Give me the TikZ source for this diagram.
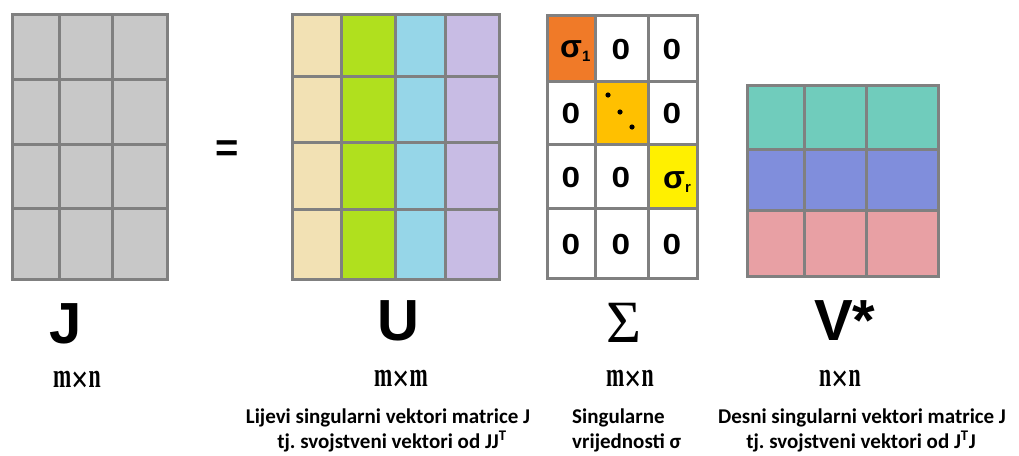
\documentclass[tikz,border=0pt]{standalone}
\usepackage{fontspec}
\usepackage{tikz}
\newfontfamily\capfont{Carlito}
\newfontfamily\sansfont{Liberation Sans}
\newfontfamily\seriffont{Liberation Serif}
\frenchspacing

\definecolor{linegray}{RGB}{128,128,128}
\definecolor{jgray}{RGB}{200,200,200}
\definecolor{ubeige}{RGB}{242,225,180}
\definecolor{ugreen}{RGB}{176,224,30}
\definecolor{ublue}{RGB}{150,214,232}
\definecolor{ulav}{RGB}{200,188,228}
\definecolor{sorange}{RGB}{240,122,40}
\definecolor{sgold}{RGB}{255,192,0}
\definecolor{syellow}{RGB}{255,240,0}
\definecolor{vteal}{RGB}{112,204,188}
\definecolor{vblue}{RGB}{128,142,220}
\definecolor{vpink}{RGB}{232,160,164}

\newcommand{\dimx}{\raisebox{-3.6pt}{\scalebox{1.4}[1.1]{×}}}

\tikzset{
  gridln/.style={draw=linegray, line width=3pt},
  bigname/.style={inner sep=0pt, anchor=base, font=\sansfont\bfseries\fontsize{58}{60}\selectfont},
  dimtxt/.style={inner sep=0pt, anchor=base, font=\seriffont\bfseries\fontsize{23}{26}\selectfont},
  zerotxt/.style={inner sep=0pt, anchor=base, font=\sansfont\bfseries\fontsize{29}{30}\selectfont},
  sigtxt/.style={inner sep=0pt, anchor=base west, font=\sansfont\bfseries\fontsize{32}{32}\selectfont},
  captxt/.style={inner sep=0pt, anchor=base, font=\capfont\bfseries\fontsize{21}{25}\selectfont}
}

\begin{document}
\begin{tikzpicture}[x=1pt,y=-1pt]
\useasboundingbox [fill=white] (0,0) rectangle (1019,455);

% J
\draw [gridln, fill=jgray] (12,14) rectangle (167,279);
\draw [gridln] (59,14) -- (59,279);
\draw [gridln] (112,14) -- (112,279);
\draw [gridln] (12,79) -- (167,79);
\draw [gridln] (12,144) -- (167,144);
\draw [gridln] (12,208) -- (167,208);

\node (eq) [inner sep=0pt, anchor=base, font=\sansfont\bfseries\fontsize{40}{40}\selectfont] at (227,161) {=};

% U
\fill [ubeige] (292,14) rectangle (341,279);
\fill [ugreen] (341,14) rectangle (395,279);
\fill [ublue] (395,14) rectangle (445,279);
\fill [ulav] (445,14) rectangle (499,279);
\draw [gridln] (292,14) rectangle (499,279);
\draw [gridln] (341,14) -- (341,279);
\draw [gridln] (395,14) -- (395,279);
\draw [gridln] (445,14) -- (445,279);
\draw [gridln] (292,76) -- (499,76);
\draw [gridln] (292,142) -- (499,142);
\draw [gridln] (292,209) -- (499,209);

% Sigma
\fill [sorange] (547,15) rectangle (595,81);
\fill [sgold] (595,81) rectangle (648,144);
\fill [syellow] (648,144) rectangle (697,208);
\draw [gridln] (547,15) rectangle (697,278);
\draw [gridln] (595,15) -- (595,278);
\draw [gridln] (648,15) -- (648,278);
\draw [gridln] (547,81) -- (697,81);
\draw [gridln] (547,144) -- (697,144);
\draw [gridln] (547,208) -- (697,208);

\node (s1) [sigtxt] at (560,57) {σ\raisebox{-4pt}{\fontsize{15}{15}\selectfont 1}};
\node (z12) [zerotxt] at (621,59) {\scalebox{1.15}[1]{0}};
\node (z13) [zerotxt] at (672,59) {\scalebox{1.15}[1]{0}};
\node (z21) [zerotxt] at (571,123) {\scalebox{1.15}[1]{0}};
\fill (608,95) circle [radius=2.6];
\fill (620,112) circle [radius=2.6];
\fill (632,127) circle [radius=2.6];
\node (z23) [zerotxt] at (672,123) {\scalebox{1.15}[1]{0}};
\node (z31) [zerotxt] at (571,187) {\scalebox{1.15}[1]{0}};
\node (z32) [zerotxt] at (621,187) {\scalebox{1.15}[1]{0}};
\node (sr) [sigtxt] at (663,188) {σ\raisebox{-4pt}{\fontsize{15}{15}\selectfont r}};
\node (z41) [zerotxt] at (571,254) {\scalebox{1.15}[1]{0}};
\node (z42) [zerotxt] at (621,254) {\scalebox{1.15}[1]{0}};
\node (z43) [zerotxt] at (672,254) {\scalebox{1.15}[1]{0}};

% V*
\fill [vteal] (747,85) rectangle (938,149);
\fill [vblue] (747,149) rectangle (938,210);
\fill [vpink] (747,210) rectangle (938,276);
\draw [gridln] (747,85) rectangle (938,276);
\draw [gridln] (804,85) -- (804,276);
\draw [gridln] (866,85) -- (866,276);
\draw [gridln] (747,149) -- (938,149);
\draw [gridln] (747,210) -- (938,210);

% names
\node (nJ) [bigname] at (66,343) {J};
\node (nU) [bigname] at (398,340) {U};
\node (nS) [inner sep=0pt, anchor=base, font=\seriffont\fontsize{60}{60}\selectfont] at (624,342) {Σ};
\node (nV) [bigname, anchor=base west] at (814,340) {V*};

\node (dJ) [dimtxt] at (77,387) {\scalebox{0.95}[1.5]{m\dimx n}};
\node (dU) [dimtxt] at (401,386) {\scalebox{0.95}[1.5]{m\dimx m}};
\node (dS) [dimtxt] at (630,386) {\scalebox{0.95}[1.5]{m\dimx n}};
\node (dV) [dimtxt] at (840,386) {\scalebox{0.95}[1.5]{n\dimx n}};

% captions
\node (cUa) [captxt] at (388,423) {Lijevi singularni vektori matrice J};
\node (cUb) [captxt] at (392,448) {tj. svojstveni vektori od JJ\textsuperscript{T}};
\node (cSa) [captxt, anchor=base west] at (572,423) {Singularne};
\node (cSb) [captxt, anchor=base west] at (572,448) {vrijednosti σ};
\node (cVa) [captxt] at (862,423) {Desni singularni vektori matrice J};
\node (cVb) [captxt] at (861,448) {tj. svojstveni vektori od J\textsuperscript{T}J};
\end{tikzpicture}
\end{document}
